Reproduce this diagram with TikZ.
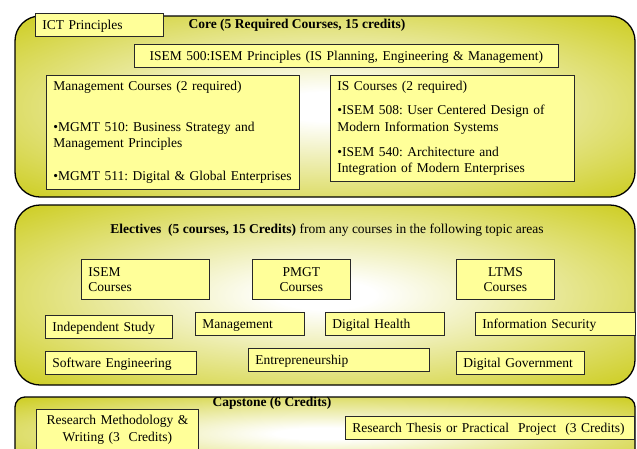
\documentclass[tikz,border=0pt]{standalone}
\usepackage{fontspec}
\setmainfont{Liberation Serif}
\definecolor{olivefill}{RGB}{204,204,28}
\definecolor{boxfill}{RGB}{255,255,153}
\definecolor{boxline}{RGB}{40,40,40}
\pgfdeclareradialshading{panelshade}{\pgfpoint{0bp}{0bp}}{color(0bp)=(white); color(4bp)=(white); color(36bp)=(olivefill); color(50bp)=(olivefill)}
\newcommand\dgfont{\fontsize{13.5}{16.5}\selectfont\frenchspacing\hyphenpenalty=10000\exhyphenpenalty=10000 }
\begin{document}
\begin{tikzpicture}[x=1pt,y=-1pt,
  panel/.style={draw=black, line width=1.3pt, shading=panelshade},
  cbox/.style={draw=boxline, line width=0.8pt, fill=boxfill, anchor=north west,
    inner xsep=7pt, inner ysep=0pt, font=\dgfont, align=left},
  onebox/.style={cbox, text height=11pt, text depth=1.5pt, minimum height=23pt},
  ttl/.style={font=\dgfont\bfseries, inner sep=0pt}]
\useasboundingbox (0,0) rectangle (637,448);
\clip (0,0) rectangle (637,448);
% panels
\path[panel, rounded corners=25pt] (15,16) rectangle (635,197);
\path[panel, rounded corners=25pt] (15,205) rectangle (635,385);
\path[panel, rounded corners=10pt] (15,397) rectangle (635,470);
% core
\node[onebox, text width=114pt] (ict) at (35,13) {ICT Principles};
\node[ttl] (coretitle) at (297,25) {Core (5 Required Courses, 15 credits)};
\node[onebox, align=center, text width=410pt] (isem500) at (134,44) {ISEM 500:ISEM Principles (IS Planning, Engineering \& Management)};
\node[cbox, text width=239pt, minimum height=114pt] (mgmt) at (46,75)
  {\mbox{Management Courses (2 required)}\\[24.5pt]\mbox{•MGMT 510: Business Strategy and}\\\mbox{Management Principles}\\[16.5pt]\mbox{•MGMT 511: Digital \& Global Enterprises}};
\node[cbox, text width=230pt, minimum height=106pt] (iscourses) at (330,75)
  {\mbox{IS Courses (2 required)}\\[7.5pt]\mbox{•ISEM 508: User Centered Design of}\\\mbox{Modern Information Systems}\\[8.5pt]\mbox{•ISEM 540: Architecture and}\\\mbox{Integration of Modern Enterprises}};
% electives
\node[font=\dgfont, inner sep=0pt] (electitle) at (327,230) {\textbf{Electives\ \ (5 courses, 15 Credits)} from any courses in the following topic areas};
\node[cbox, text width=114pt, minimum height=40pt] (isem) at (81,259) {ISEM\\[-1pt]Courses};
\node[cbox, align=center, text width=84pt, minimum height=40pt] (pmgt) at (252,259) {PMGT\\[-1pt]Courses};
\node[cbox, align=center, text width=84pt, minimum height=40pt] (ltms) at (456,259) {LTMS\\[-1pt]Courses};
\node[onebox, text width=113pt] (indep) at (45,315) {Independent Study};
\node[onebox, text width=95pt] (manag) at (195,312) {Management};
\node[onebox, text width=105pt] (dhealth) at (325,312) {Digital Health};
\node[onebox, text width=146pt] (infosec) at (475,312) {Information Security};
\node[onebox, text width=137pt] (softeng) at (45,351) {Software Engineering};
\node[onebox, text width=167pt] (entre) at (248,348) {Entrepreneurship};
\node[onebox, text width=114pt] (dgov) at (456,351) {Digital Government};
% capstone
\node[ttl] (captitle) at (272,403) {Capstone (6 Credits)};
\node[cbox, align=center, text width=148pt, minimum height=40pt] (resmeth) at (36,409) {\mbox{Research Methodology \&}\\[0.5pt]\mbox{Writing (3\ \ Credits)}};
\node[onebox, text width=275pt] (resthesis) at (345,416) {\mbox{Research Thesis or Practical\ \ Project\ \ (3 Credits)}};
\end{tikzpicture}
\end{document}
